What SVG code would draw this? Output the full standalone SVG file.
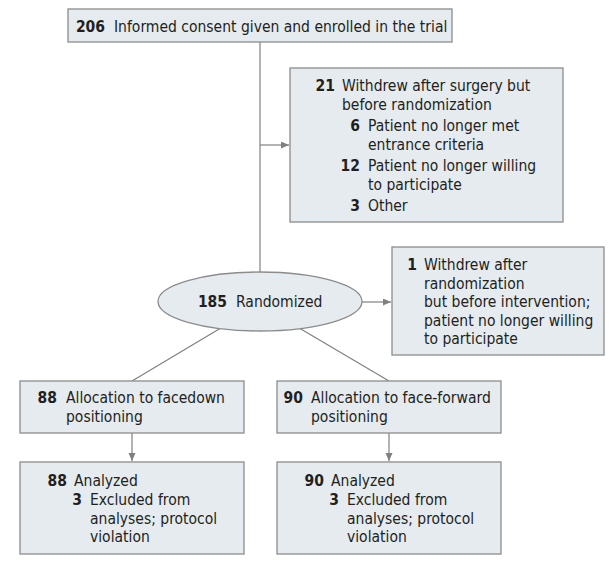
<svg xmlns="http://www.w3.org/2000/svg" width="610" height="571" viewBox="0 0 610 571">
<style>
.box{fill:#e5ebef;stroke:#8c8c8c;stroke-width:1.3}
.ln{stroke:#808080;stroke-width:1.2;fill:none}
text{font-family:"DejaVu Sans Condensed","DejaVu Sans",sans-serif;font-stretch:condensed;font-size:15.5px;fill:#231f20}
.n{font-weight:bold;text-anchor:end}
</style>
<defs>
<marker id="ah" markerUnits="userSpaceOnUse" markerWidth="9" markerHeight="8" refX="8" refY="3.5" orient="auto">
<path d="M0,0 L8,3.5 L0,7 z" fill="#808080"/>
</marker>
</defs>
<rect width="610" height="571" fill="#ffffff"/>
<g id="connectors">
<line class="ln" x1="260" y1="42" x2="260" y2="272"/>
<line class="ln" x1="260" y1="145" x2="289" y2="145" marker-end="url(#ah)"/>
<line class="ln" x1="362" y1="302" x2="391" y2="302" marker-end="url(#ah)"/>
<line class="ln" x1="220" y1="328.6" x2="132" y2="381"/>
<line class="ln" x1="300" y1="328.6" x2="389" y2="381"/>
<line class="ln" x1="132" y1="433" x2="132" y2="461" marker-end="url(#ah)"/>
<line class="ln" x1="389" y1="433" x2="389" y2="461" marker-end="url(#ah)"/>
</g>
<g id="enrolled">
<rect class="box" x="68" y="9" width="384" height="33"/>
<text class="n" x="105" y="32">206</text>
<text x="114" y="32">Informed consent given and enrolled in the trial</text>
</g>
<g id="withdrew1">
<rect class="box" x="290" y="68" width="273" height="154"/>
<text class="n" x="335" y="91">21</text>
<text x="342" y="91">Withdrew after surgery but</text>
<text x="342" y="110">before randomization</text>
<text class="n" x="360" y="130.5">6</text>
<text x="368" y="130.5">Patient no longer met</text>
<text x="368" y="150">entrance criteria</text>
<text class="n" x="360" y="170.5">12</text>
<text x="368" y="170.5">Patient no longer willing</text>
<text x="368" y="190">to participate</text>
<text class="n" x="360" y="210.5">3</text>
<text x="368" y="210.5">Other</text>
</g>
<g id="randomized">
<ellipse class="box" cx="260" cy="301.5" rx="102" ry="29.5"/>
<text class="n" x="227" y="306.5">185</text>
<text x="236" y="306.5">Randomized</text>
</g>
<g id="withdrew2">
<rect class="box" x="392" y="247" width="212" height="108"/>
<text class="n" x="417" y="270">1</text>
<text x="424" y="270">Withdrew after</text>
<text x="424" y="288.5">randomization</text>
<text x="424" y="307">but before intervention;</text>
<text x="424" y="325.5">patient no longer willing</text>
<text x="424" y="344">to participate</text>
</g>
<g id="alloc-facedown">
<rect class="box" x="20" y="381" width="224" height="52"/>
<text class="n" x="57" y="403">88</text>
<text x="66" y="403">Allocation to facedown</text>
<text x="66" y="421.5">positioning</text>
</g>
<g id="alloc-faceforward">
<rect class="box" x="277" y="381" width="224" height="52"/>
<text class="n" x="303" y="403">90</text>
<text x="311" y="403">Allocation to face-forward</text>
<text x="311" y="421.5">positioning</text>
</g>
<g id="analyzed-facedown">
<rect class="box" x="20" y="462" width="224" height="92"/>
<text class="n" x="67" y="485.5">88</text>
<text x="74" y="485.5">Analyzed</text>
<text class="n" x="82" y="505">3</text>
<text x="90" y="505">Excluded from</text>
<text x="90" y="523.5">analyses; protocol</text>
<text x="90" y="542">violation</text>
</g>
<g id="analyzed-faceforward">
<rect class="box" x="277" y="462" width="224" height="92"/>
<text class="n" x="324" y="485.5">90</text>
<text x="331" y="485.5">Analyzed</text>
<text class="n" x="339" y="505">3</text>
<text x="347" y="505">Excluded from</text>
<text x="347" y="523.5">analyses; protocol</text>
<text x="347" y="542">violation</text>
</g>
</svg>
